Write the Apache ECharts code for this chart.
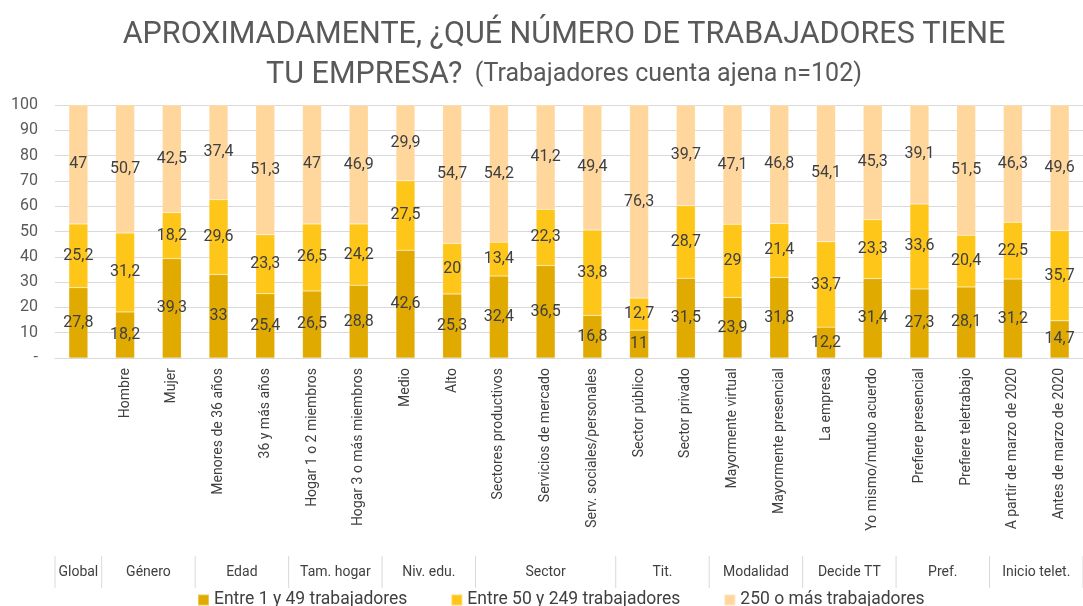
<!DOCTYPE html>
<html>
<head>
<meta charset="utf-8">
<script src="https://cdn.jsdelivr.net/npm/echarts@6/dist/echarts.min.js"></script>
<style>
  html, body { margin: 0; padding: 0; background: #fff; }
  #chart { width: 1083px; height: 606px; }
</style>
</head>
<body>
<div id="chart"></div>
<script>
// categorias (primer nivel)
const categories = [
  'Global', 'Hombre', 'Mujer', 'Menores de 36 años', '36 y más años',
  'Hogar 1 o 2 miembros', 'Hogar 3 o más miembros', 'Medio', 'Alto',
  'Sectores productivos', 'Servicios de mercado', 'Serv. sociales/personales',
  'Sector público', 'Sector privado', 'Mayormente virtual', 'Mayormente presencial',
  'La empresa', 'Yo mismo/mutuo acuerdo', 'Prefiere presencial', 'Prefiere teletrabajo',
  'A partir de marzo de 2020', 'Antes de marzo de 2020'
];
// grupos (segundo nivel) y cuantas categorias abarca cada uno
const groupNames = ['Global', 'Género', 'Edad', 'Tam. hogar', 'Niv. edu.', 'Sector', 'Tit.', 'Modalidad', 'Decide TT', 'Pref.', 'Inicio telet.'];
const groupSizes = [1, 2, 2, 2, 2, 3, 2, 2, 2, 2, 2];

const seriesNames = ['Entre 1 y 49 trabajadores', 'Entre 50 y 249 trabajadores', '250 o más trabajadores'];
const small = [27.8, 18.2, 39.3, 33, 25.4, 26.5, 28.8, 42.6, 25.3, 32.4, 36.5, 16.8, 11, 31.5, 23.9, 31.8, 12.2, 31.4, 27.3, 28.1, 31.2, 14.7];
const medium = [25.2, 31.2, 18.2, 29.6, 23.3, 26.5, 24.2, 27.5, 20, 13.4, 22.3, 33.8, 12.7, 28.7, 29, 21.4, 33.7, 23.3, 33.6, 20.4, 22.5, 35.7];
const large = [47, 50.7, 42.5, 37.4, 51.3, 47, 46.9, 29.9, 54.7, 54.2, 41.2, 49.4, 76.3, 39.7, 47.1, 46.8, 54.1, 45.3, 39.1, 51.5, 46.3, 49.6];

const colors = ['#E0AA00', '#FFC61A', '#FFD79C'];
const fontMain = 'Roboto, "Noto Sans", sans-serif';

const chart = echarts.init(document.getElementById('chart'));

function makeSeries(name, data, color) {
  return {
    name: name,
    type: 'bar',
    stack: 'total',
    barWidth: 19,
    data: data,
    itemStyle: { color: color, borderColor: 'rgba(255,255,255,0.35)', borderWidth: 0.5 },
    label: {
      show: true,
      position: 'inside',
      color: '#404040',
      fontSize: 16,
      fontFamily: fontMain,
      formatter: p => String(p.value).replace('.', ',')
    }
  };
}

chart.setOption({
  animation: false,
  color: colors,
  textStyle: { fontFamily: fontMain },
  title: {
    left: 559,
    textAlign: 'center',
    top: 10,
    text: '{a|APROXIMADAMENTE, ¿QUÉ NÚMERO DE TRABAJADORES TIENE}\n{a|TU EMPRESA?}{b|  (Trabajadores cuenta ajena n=102)}',
    textStyle: {
      fontWeight: 'normal',
      rich: {
        a: { fontSize: 30.5, color: '#595959', fontFamily: fontMain, fontWeight: 'normal', lineHeight: 40 },
        b: { fontSize: 25, color: '#595959', fontFamily: fontMain, fontWeight: 'normal', lineHeight: 40 }
      }
    }
  },
  legend: {
    top: 586,
    left: 192,
    itemWidth: 11,
    itemHeight: 11,
    itemGap: 43,
    icon: 'rect',
    textStyle: { fontSize: 17.5, color: '#404040', fontFamily: fontMain }
  },
  grid: { left: 55, right: -8, top: 105, bottom: 248 },
  xAxis: {
    type: 'category',
    data: categories,
    axisLine: { lineStyle: { color: '#d9d9d9' } },
    axisTick: { length: 198, lineStyle: { color: '#d9d9d9' } },
    axisLabel: {
      interval: 0,
      rotate: 90,
      margin: 10,
      fontSize: 14,
      color: '#404040',
      fontFamily: fontMain,
      // la categoria Global no lleva etiqueta propia
      formatter: (v, i) => (i === 0 ? '' : v)
    }
  },
  yAxis: {
    type: 'value',
    min: 0,
    max: 100,
    interval: 10,
    axisLine: { show: false },
    axisTick: { show: false },
    splitLine: { lineStyle: { color: '#d9d9d9' } },
    axisLabel: {
      margin: 17,
      fontSize: 16,
      color: '#595959',
      formatter: v => (v === 0 ? '-' : v)
    }
  },
  series: [
    makeSeries(seriesNames[0], small, colors[0]),
    makeSeries(seriesNames[1], medium, colors[1]),
    makeSeries(seriesNames[2], large, colors[2])
  ]
});

// segundo nivel del eje: separadores de grupo y etiquetas
const px = i => chart.convertToPixel({ xAxisIndex: 0 }, i);
const step = px(1) - px(0);
const edge = i => px(0) - step / 2 + i * step;
const yTop = chart.convertToPixel({ yAxisIndex: 0 }, 0);
const graphics = [];
let start = 0;
groupSizes.forEach((n, g) => {
  const x0 = edge(start);
  const x1 = edge(start + n);
  graphics.push({
    type: 'line',
    shape: { x1: x0, y1: yTop + 198, x2: x0, y2: yTop + 230 },
    style: { stroke: '#d9d9d9', lineWidth: 1 }
  });
  graphics.push({
    type: 'text',
    x: (x0 + x1) / 2,
    y: yTop + 214,
    style: {
      text: groupNames[g],
      fill: '#404040',
      fontSize: 14,
      fontFamily: fontMain,
      align: 'center',
      verticalAlign: 'middle'
    }
  });
  start += n;
});
graphics.push({
  type: 'line',
  shape: { x1: edge(start), y1: yTop + 198, x2: edge(start), y2: yTop + 230 },
  style: { stroke: '#d9d9d9', lineWidth: 1 }
});
chart.setOption({ graphic: graphics });
</script>
</body>
</html>
